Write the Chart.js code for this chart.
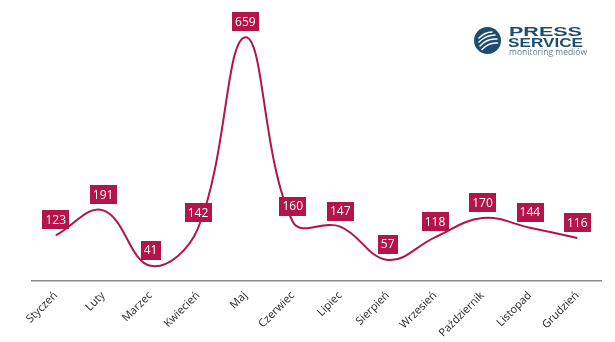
<!DOCTYPE html>
<html>
<head>
<meta charset="utf-8">
<script src="https://cdn.jsdelivr.net/npm/chart.js@4"></script>
<style>
  html, body { margin: 0; padding: 0; background: #fff; }
  #wrap { position: relative; width: 615px; height: 342px; }
  #logo { position: absolute; left: 0; top: 0; width: 615px; height: 70px; pointer-events: none; }
  #logo svg { position: absolute; left: 474px; top: 27px; }
  #logo .t { position: absolute; white-space: nowrap; transform-origin: 0 0; }
  #logo .t1 { left: 509px; top: 24.5px; font: 700 13.5px/14px "Liberation Sans", Arial, sans-serif; color: #1d4d6e; }
  #logo .t2 { left: 508px; top: 37px; font: 700 12px/12px "Liberation Sans", Arial, sans-serif; color: #1d4d6e; }
  #logo .t3 { left: 509px; top: 46.5px; font: 400 9.5px/10px "Open Sans", sans-serif; color: #667d8f; }
</style>
</head>
<body>
<div id="wrap">
  <canvas id="c" width="615" height="342"></canvas>
  <div id="logo">
    <svg width="28" height="28" viewBox="0 0 28 28">
      <circle cx="13.5" cy="13.5" r="13.5" fill="#1d4d6e"/>
      <g stroke="#ffffff" stroke-width="1.5" fill="none" stroke-linecap="round">
        <path d="M5 11 Q11 5 18 5"/>
        <path d="M5 15 Q12 8 21 8"/>
        <path d="M6 19 Q13 11 23 12"/>
        <path d="M8 22.5 Q15 15 23.5 16"/>
      </g>
    </svg>
    <div class="t t1" data-w="73">PRESS</div>
    <div class="t t2" data-w="75">SERVICE</div>
    <div class="t t3" data-w="78">monitoring mediów</div>
  </div>
</div>
<script>
// Monthly counts
const months = ["Styczeń", "Luty", "Marzec", "Kwiecień", "Maj", "Czerwiec", "Lipiec", "Sierpień", "Wrzesień", "Październik", "Listopad", "Grudzień"];
const counts = [123, 191, 41, 142, 659, 160, 147, 57, 118, 170, 144, 116];

const accent = "#b3144a";

// Stretch the logo lines to their set widths
document.querySelectorAll("#logo .t").forEach(el => {
  const target = parseFloat(el.dataset.w);
  const w = el.getBoundingClientRect().width;
  el.style.transform = "scaleX(" + (target / w) + ")";
});

// Value boxes drawn above each point
const valueBoxes = {
  id: "valueBoxes",
  afterDatasetsDraw(chart) {
    const ctx = chart.ctx;
    const meta = chart.getDatasetMeta(0);
    const ds = chart.data.datasets[0];
    ctx.save();
    ctx.font = "12px 'Open Sans', sans-serif";
    ctx.textAlign = "center";
    ctx.textBaseline = "middle";
    meta.data.forEach((pt, i) => {
      const txt = String(ds.data[i]);
      const w = ctx.measureText(txt).width + 6;
      const h = 19;
      const bottom = pt.y - 6;
      ctx.fillStyle = accent;
      ctx.fillRect(Math.round(pt.x - w / 2), Math.round(bottom - h), Math.round(w), h);
      ctx.fillStyle = "#ffffff";
      ctx.fillText(txt, pt.x, bottom - h / 2 + 0.5);
    });
    ctx.restore();
  }
};

new Chart(document.getElementById("c"), {
  type: "line",
  data: {
    labels: months,
    datasets: [{
      data: counts,
      borderColor: accent,
      borderWidth: 2,
      tension: 0.4,
      pointRadius: 0,
      fill: false
    }]
  },
  options: {
    responsive: false,
    animation: false,
    layout: { padding: { left: 32, right: 14, top: 22, bottom: 0 } },
    plugins: { legend: { display: false }, tooltip: { enabled: false } },
    scales: {
      x: {
        offset: true,
        grid: { display: false, drawTicks: false, offset: true },
        border: { display: true, color: "#8c8c8c", width: 1.5 },
        ticks: {
          autoSkip: false,
          minRotation: 45,
          maxRotation: 45,
          padding: 8,
          color: "#262626",
          font: { family: "'Open Sans', sans-serif", size: 11 }
        },
        afterFit(scale) { scale.height = 61; }
      },
      y: {
        display: false,
        min: 0,
        max: 700
      }
    }
  },
  plugins: [valueBoxes]
});
</script>
</body>
</html>
